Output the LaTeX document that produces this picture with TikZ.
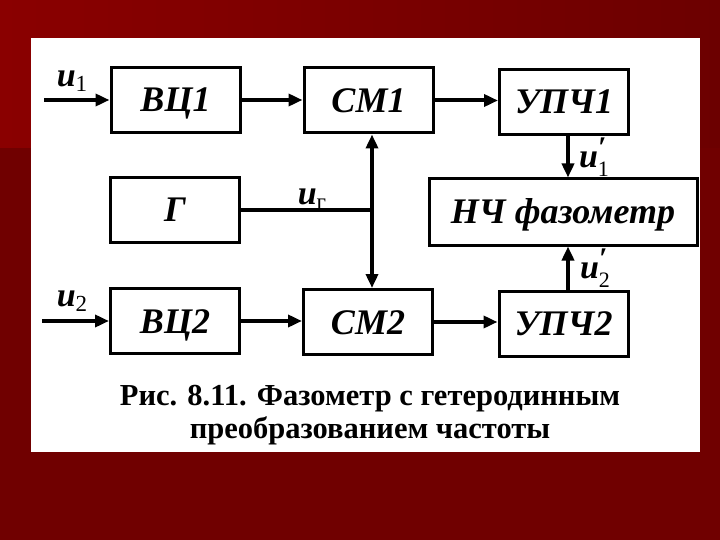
\documentclass[tikz,border=0pt]{standalone}
\usepackage{fontspec}
\setmainfont{Liberation Serif}
\usetikzlibrary{arrows.meta}
\definecolor{bgdark}{RGB}{112,0,0}
\definecolor{bgleft}{RGB}{138,0,0}
\definecolor{bgright}{RGB}{108,0,0}
\newcommand{\sigu}[1]{{\fontsize{34}{34}\selectfont\bfseries\itshape u}\raisebox{-5pt}{\fontsize{23}{23}\selectfont #1}}
\newcommand{\sigp}[1]{{\fontsize{34}{34}\selectfont\bfseries\itshape u}\rlap{\raisebox{10pt}{\fontsize{30}{30}\selectfont\bfseries\itshape ′}}\raisebox{-9pt}{\fontsize{22}{22}\selectfont #1}}
\begin{document}
\begin{tikzpicture}[x=1pt,y=-1pt,
  box/.style={draw=black, line width=3pt, fill=white, minimum width=129pt, minimum height=65pt, inner sep=0pt,
    text height=24pt, text depth=0pt,
    font=\fontsize{36}{40}\selectfont\bfseries\itshape},
  conn/.style={line width=4pt, -{Triangle[length=14pt,width=12pt]}},
  bidir/.style={line width=4pt, {Triangle[length=14pt,width=12pt]}-{Triangle[length=14pt,width=12pt]}},
  plain/.style={line width=4pt},
  lbl/.style={inner sep=0pt}]
\useasboundingbox (0,0) rectangle (720,540);
% background
\fill[bgdark] (0,0) rectangle (720,540);
\shade[left color=bgleft, right color=bgright] (0,0) rectangle (720,148);
\fill[white] (31,38) rectangle (700,452);
% blocks
\node[box] (vc1) at (175.5,100) {ВЦ1};
\node[box] (cm1) at (368.5,100.5) {СМ1};
\node[box] (up1) at (564,102) {УПЧ1};
\node[box] (g) at (175,210) {Г};
\node[box, minimum width=268pt, minimum height=66pt] (nch) at (563,212) {НЧ фазометр};
\node[box] (vc2) at (175,321) {ВЦ2};
\node[box] (cm2) at (368,322) {СМ2};
\node[box] (up2) at (563.5,323.5) {УПЧ2};
% coordinates
\coordinate (in1) at (44,100);
\coordinate (in2) at (42,321);
\coordinate (bx) at (372,0);
\coordinate (vx) at (568,0);
% connectors
\draw[conn] (in1) -- (vc1.west);
\draw[conn] (vc1.east) -- (cm1.west |- vc1.east);
\draw[conn] (cm1.east) -- (up1.west |- cm1.east);
\draw[conn] (in2) -- (vc2.west);
\draw[conn] (vc2.east) -- (cm2.west |- vc2.east);
\draw[conn] (cm2.east) -- (up2.west |- cm2.east);
\draw[bidir] (cm1.south -| bx) -- (cm2.north -| bx);
\coordinate (gj) at (g.east -| bx);
\draw[plain] (g.east) -- (gj);
\draw[conn] (up1.south -| vx) -- (nch.north -| vx);
\draw[conn] (up2.north -| vx) -- (nch.south -| vx);
% labels
\node[lbl] (l1) at (72,81) {\sigu{1}};
\node[lbl] (l2) at (72,301) {\sigu{2}};
\node[lbl] (lg) at (312,199) {\sigu{г}};
\node[lbl] (l1p) at (594,157) {\sigp{1}};
\node[lbl] (l2p) at (595,268) {\sigp{2}};
% caption
\node[align=center, inner sep=0pt, font=\fontsize{30.5}{33}\selectfont\bfseries] (cap) at (370,415)
  {Рис. 8.11. Фазометр с гетеродинным\\преобразованием частоты};
\end{tikzpicture}
\end{document}
